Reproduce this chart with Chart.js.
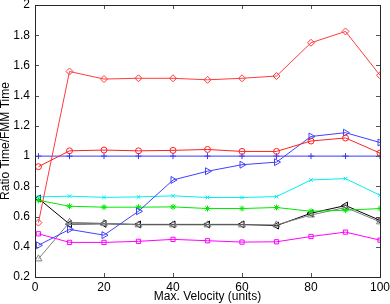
<!DOCTYPE html>
<html>
<head>
<meta charset="utf-8">
<script src="https://cdn.jsdelivr.net/npm/chart.js@4/dist/chart.umd.min.js"></script>
<style>
  html, body { margin: 0; padding: 0; background: #fff; }
  #wrap { width: 390px; height: 304px; }
</style>
</head>
<body>
<div id="wrap"><canvas id="c" width="390" height="304"></canvas></div>
<script>
// ---- data ----
const velocity = [1, 10, 20, 30, 40, 50, 60, 70, 80, 90, 100];
const xTicks = [0, 20, 40, 60, 80, 100];
const yTicks = [0.2, 0.4, 0.6, 0.8, 1, 1.2, 1.4, 1.6, 1.8, 2];

const redDiamond   = [0.56, 1.56, 1.51, 1.515, 1.515, 1.505, 1.515, 1.53, 1.75, 1.825, 1.535];
const redCircle    = [0.93, 1.035, 1.04, 1.035, 1.038, 1.044, 1.031, 1.031, 1.10, 1.12, 1.02];
const bluePlus     = [1, 1, 1, 1, 1, 1, 1, 1, 1, 1, 1];
const blueTriRight = [0.41, 0.515, 0.477, 0.635, 0.842, 0.90, 0.943, 0.96, 1.13, 1.155, 1.09];
const cyanX        = [0.73, 0.735, 0.727, 0.73, 0.737, 0.726, 0.726, 0.732, 0.842, 0.851, 0.741];
const greenStar    = [0.708, 0.668, 0.662, 0.662, 0.664, 0.653, 0.653, 0.66, 0.635, 0.642, 0.653];
const blackTriLeft = [0.72, 0.55, 0.552, 0.548, 0.548, 0.548, 0.548, 0.54, 0.622, 0.673, 0.575];
const grayTriUp    = [0.32, 0.562, 0.555, 0.545, 0.545, 0.545, 0.545, 0.545, 0.61, 0.66, 0.565];
const magentaSq    = [0.486, 0.429, 0.429, 0.436, 0.449, 0.44, 0.431, 0.433, 0.468, 0.497, 0.444];

const FONT = "'Liberation Sans', Arial, Helvetica, sans-serif";

function series(values, color, style, radius, rotation) {
  return {
    data: velocity.map((v, i) => ({ x: v, y: values[i] })),
    borderColor: color,
    backgroundColor: color,
    borderWidth: 1,
    pointStyle: style,
    pointRadius: radius,
    pointRotation: rotation || 0,
    pointBorderColor: color,
    pointBackgroundColor: 'rgba(0,0,0,0)',
    pointBorderWidth: 1,
    tension: 0,
    fill: false
  };
}

const frame = {
  id: 'frame',
  afterDatasetsDraw(chart) {
    const { ctx, chartArea: a, scales: { x, y } } = chart;
    ctx.save();
    ctx.lineWidth = 1;
    ctx.strokeStyle = '#555';
    const L = 4;
    ctx.beginPath();
    xTicks.forEach(v => {
      const px = Math.round(x.getPixelForValue(v)) + 0.5;
      ctx.moveTo(px, a.bottom); ctx.lineTo(px, a.bottom - L);
      ctx.moveTo(px, a.top); ctx.lineTo(px, a.top + L);
    });
    yTicks.forEach(v => {
      const py = Math.round(y.getPixelForValue(v)) + 0.5;
      ctx.moveTo(a.left, py); ctx.lineTo(a.left + L, py);
      ctx.moveTo(a.right, py); ctx.lineTo(a.right - L, py);
    });
    ctx.stroke();
    ctx.strokeStyle = '#262626';
    ctx.strokeRect(Math.round(a.left) + 0.5, Math.round(a.top) + 0.5,
                   Math.round(a.right - a.left), Math.round(a.bottom - a.top));
    ctx.restore();
  }
};

new Chart(document.getElementById('c'), {
  type: 'line',
  data: {
    datasets: [
      series(redDiamond, '#ff3b3b', 'rectRot', 3.5),
      series(redCircle, '#ff2020', 'circle', 3),
      series(bluePlus, '#3a3aff', 'cross', 3),
      series(blueTriRight, '#4040ff', 'triangle', 4, 90),
      series(cyanX, '#00eeee', 'crossRot', 2.5),
      series(greenStar, '#00e800', 'star', 3),
      series(magentaSq, '#ff00ff', 'rect', 3),
      series(grayTriUp, '#808080', 'triangle', 4),
      series(blackTriLeft, '#000000', 'triangle', 4, -90)
    ]
  },
  options: {
    responsive: false,
    animation: false,
    events: [],
    layout: { padding: { left: 0, top: 4, right: 10, bottom: 0 } },
    plugins: { legend: { display: false }, tooltip: { enabled: false } },
    scales: {
      x: {
        type: 'linear',
        min: 0, max: 100,
        afterBuildTicks: s => { s.ticks = xTicks.map(v => ({ value: v })); },
        afterFit: s => { s.height = 27; s.paddingLeft = 0; s.paddingRight = 0; },
        grid: { display: false, drawTicks: false },
        border: { display: false },
        ticks: {
          color: '#000', padding: 3, maxRotation: 0, autoSkip: false,
          font: { family: FONT, size: 12 },
          callback: v => String(v)
        },
        title: {
          display: true, text: 'Max. Velocity (units)', color: '#000',
          font: { family: FONT, size: 12 }, padding: { top: 0, bottom: 0 }
        }
      },
      y: {
        type: 'linear',
        min: 0.2, max: 2,
        afterBuildTicks: s => { s.ticks = yTicks.map(v => ({ value: v })); },
        afterFit: s => { s.width = 35; s.paddingTop = 0; s.paddingBottom = 0; },
        grid: { display: false, drawTicks: false },
        border: { display: false },
        ticks: {
          color: '#000', padding: 5, autoSkip: false,
          font: { family: FONT, size: 12 },
          callback: v => String(Number(v.toFixed(2)))
        },
        title: {
          display: true, text: 'Ratio Time/FMM Time', color: '#000',
          font: { family: FONT, size: 12, lineHeight: 1 }, padding: { top: 0, bottom: 0 }
        }
      }
    }
  },
  plugins: [frame]
});
</script>
</body>
</html>
